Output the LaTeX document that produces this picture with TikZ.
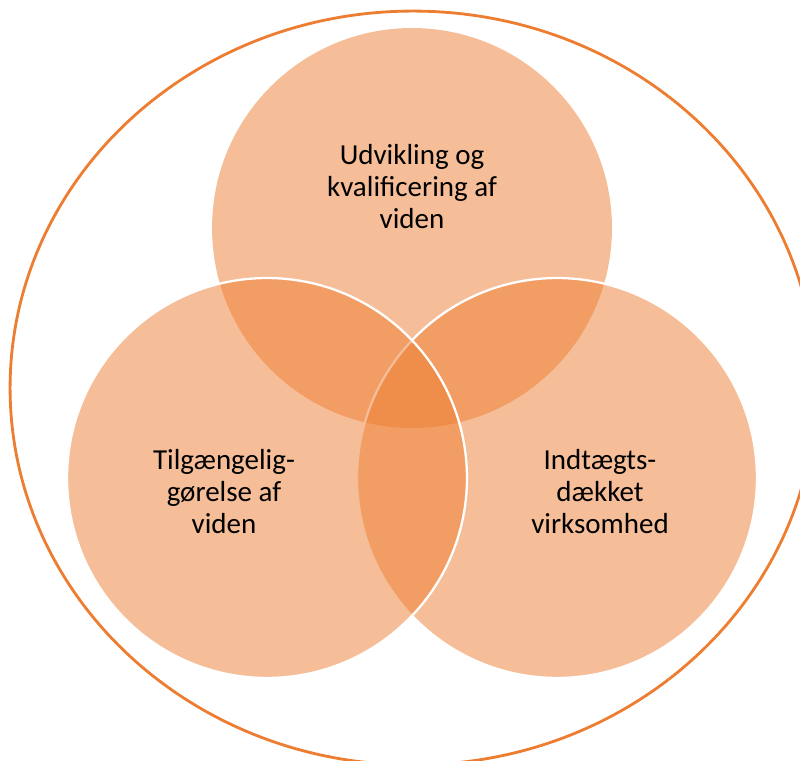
\documentclass[tikz,border=0pt]{standalone}
\usepackage{fontspec}
\setmainfont{Carlito}
\usepackage{tikz}
\definecolor{vennorange}{HTML}{ED7D31}
\tikzset{
  venn/.style={
    x=0.02cm, y=-0.02cm,
    font={\fontsize{16.5}{18.2}\selectfont}
  },
  venncircle/.style={
    circle, minimum size=8cm, inner sep=0pt, outer sep=0pt,
    fill=vennorange, fill opacity=.5
  },
  vennedge/.style={venncircle, draw=white, line width=1.3pt},
  vennlabel/.style={align=center, text=black, inner sep=0pt},
  outerring/.style={draw=vennorange, line width=1.6pt}
}

\begin{document}
\begin{tikzpicture}[venn]
\useasboundingbox (0,0) rectangle (800,760);
\draw[outerring] (413,388) ellipse [x radius=8.06cm, y radius=7.54cm];
\node[venncircle] (udv) at (412,228) {};
\node[vennedge] (indt) at (557,478) {};
\node[vennedge] (tilg) at (267,478) {};
\node[vennlabel] (udvtxt) at (412,187) {Udvikling og\\kvalificering af\\viden};
\node[vennlabel] (tilgtxt) at (224,492) {Tilgængelig-\\gørelse af\\viden};
\node[vennlabel] (indttxt) at (600,492) {Indtægts-\\dækket\\virksomhed};
\end{tikzpicture}
\end{document}
